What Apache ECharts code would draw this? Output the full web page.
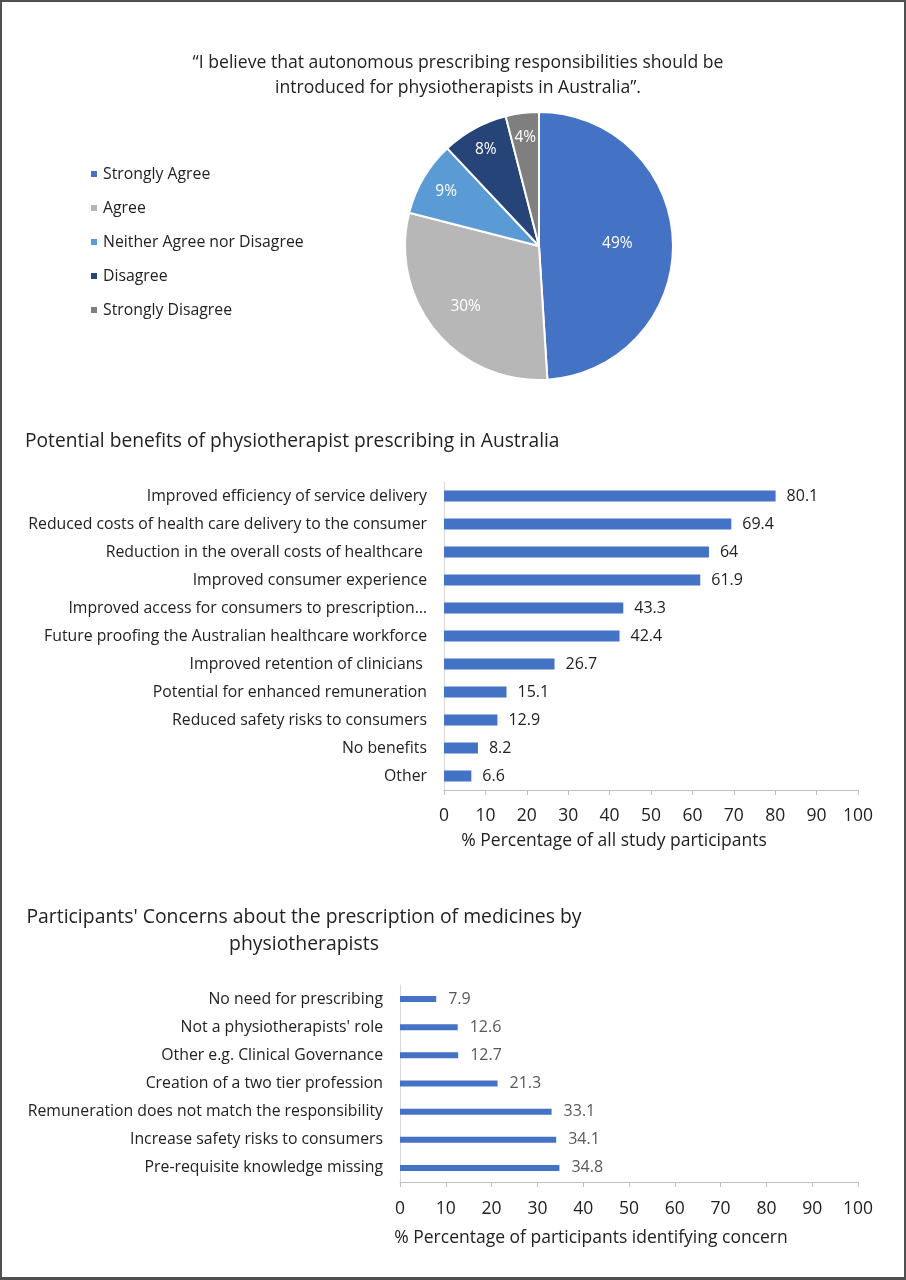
<!DOCTYPE html>
<html>
<head>
<meta charset="utf-8">
<script src="https://cdn.jsdelivr.net/npm/echarts@6/dist/echarts.min.js"></script>
<style>
html,body{margin:0;padding:0;background:#fff;}
#wrap{position:relative;width:906px;height:1280px;}
#chart{width:906px;height:1280px;}
#frame{position:absolute;left:0;top:0;width:906px;height:1280px;box-sizing:border-box;border:2px solid #505050;border-bottom-width:3px;pointer-events:none;}
</style>
</head>
<body>
<div id="wrap"><div id="chart"></div><div id="frame"></div></div>
<script>
// ---- data ----
const pieTitle = '\u201CI believe that autonomous prescribing responsibilities should be\nintroduced for physiotherapists in Australia\u201D.';
const pieCategories = ['Strongly Agree', 'Agree', 'Neither Agree nor Disagree', 'Disagree', 'Strongly Disagree'];
const pieValues = [49, 30, 9, 8, 4];

const benefitsTitle = 'Potential benefits of physiotherapist prescribing in Australia';
const benefitsCategories = [
  'Improved efficiency of service delivery',
  'Reduced costs of health care delivery to the consumer',
  'Reduction in the overall costs of healthcare ',
  'Improved consumer experience',
  'Improved access for consumers to prescription\u2026',
  'Future proofing the Australian healthcare workforce',
  'Improved retention of clinicians ',
  'Potential for enhanced remuneration',
  'Reduced safety risks to consumers',
  'No benefits',
  'Other'
];
const benefitsValues = [80.1, 69.4, 64, 61.9, 43.3, 42.4, 26.7, 15.1, 12.9, 8.2, 6.6];
const benefitsAxisName = '% Percentage of all study participants';

const concernsTitle = "Participants' Concerns about the prescription of medicines by\nphysiotherapists";
const concernsCategories = [
  'No need for prescribing',
  "Not a physiotherapists' role",
  'Other e.g. Clinical Governance',
  'Creation of a two tier profession',
  'Remuneration does not match the responsibility',
  'Increase safety risks to consumers',
  'Pre-requisite knowledge missing'
];
const concernsValues = [7.9, 12.6, 12.7, 21.3, 33.1, 34.1, 34.8];
const concernsAxisName = '% Percentage of participants identifying concern';

// ---- styling / layout ----
const FONT = '"Open Sans", Lato, sans-serif';
const pieColors = ['#4472C4', '#B7B7B7', '#5B9BD5', '#264478', '#7F7F7F'];
const pieCenter = [539, 246];
const pieRadius = 134;
const pieLabelFraction = [0.56, 0.68, 0.77, 0.79, 0.78];

const chart = echarts.init(document.getElementById('chart'));

function xAxisCfg(gridIndex, name, nameGap, nameShift, labelMargin) {
  return {
    type: 'value', gridIndex, min: 0, max: 100, interval: 10,
    name, nameLocation: 'middle', nameGap,
    nameTextStyle: { fontFamily: FONT, fontSize: 17.5, color: '#222', padding: [0, nameShift, 0, 0] },
    axisLine: { show: true, lineStyle: { color: '#BFBFBF', width: 1 } },
    axisTick: { show: true, length: 5, lineStyle: { color: '#BFBFBF' } },
    splitLine: { show: false },
    axisLabel: { fontFamily: FONT, fontSize: 17.5, color: '#222', margin: labelMargin }
  };
}
function yAxisCfg(gridIndex, data) {
  return {
    type: 'category', gridIndex, data, inverse: true,
    axisLine: { show: true, lineStyle: { color: '#D9D9D9' } },
    axisTick: { show: false },
    axisLabel: { fontFamily: FONT, fontSize: 15.8, color: '#222', margin: 17 }
  };
}

const option = {
  animation: false,
  backgroundColor: '#fff',
  textStyle: { fontFamily: FONT },
  title: [
    { text: pieTitle, left: 453, top: 45, textAlign: 'center',
      textStyle: { fontFamily: FONT, fontSize: 17.6, fontWeight: 'normal', color: '#222', lineHeight: 25, align: 'center' } },
    { text: benefitsTitle, left: 20, top: 425,
      textStyle: { fontFamily: FONT, fontSize: 19.2, fontWeight: 'normal', color: '#222', lineHeight: 24 } },
    { text: concernsTitle, left: 299, top: 899, textAlign: 'center',
      textStyle: { fontFamily: FONT, fontSize: 19.4, fontWeight: 'normal', color: '#222', lineHeight: 27, align: 'center' } }
  ],
  legend: {
    orient: 'vertical', left: 84, top: 161,
    itemWidth: 8, itemHeight: 8, itemGap: 18, icon: 'rect',
    data: pieCategories,
    textStyle: { fontFamily: FONT, fontSize: 15.8, color: '#222' }
  },
  grid: [
    { left: 444, right: 48, top: 482, height: 308 },
    { left: 400, right: 48, top: 985, height: 197 }
  ],
  xAxis: [
    xAxisCfg(0, benefitsAxisName, 42, 74, 17),
    xAxisCfg(1, concernsAxisName, 47, 76, 18)
  ],
  yAxis: [
    yAxisCfg(0, benefitsCategories),
    yAxisCfg(1, concernsCategories)
  ],
  series: [
    {
      type: 'pie', center: pieCenter, radius: pieRadius, startAngle: 90, clockwise: true,
      color: pieColors,
      itemStyle: { borderColor: '#fff', borderWidth: 2 },
      label: { show: true, position: 'inside', color: '#fff', fontFamily: FONT, fontSize: 15.5,
        formatter: p => p.value + '%' },
      labelLine: { show: false },
      labelLayout: function (params) {
        const r = params.labelRect;
        const lx = r.x + r.width / 2, ly = r.y + r.height / 2;
        const k = pieLabelFraction[params.dataIndex] / 0.5 - 1;
        return { dx: (lx - pieCenter[0]) * k, dy: (ly - pieCenter[1]) * k };
      },
      data: pieCategories.map((n, i) => ({ name: n, value: pieValues[i] }))
    },
    {
      type: 'bar', xAxisIndex: 0, yAxisIndex: 0, data: benefitsValues, barWidth: 11,
      itemStyle: { color: '#4472C4' },
      label: { show: true, position: 'right', distance: 11, fontFamily: FONT, fontSize: 16, color: '#222' }
    },
    {
      type: 'bar', xAxisIndex: 1, yAxisIndex: 1, data: concernsValues, barWidth: 6,
      itemStyle: { color: '#4472C4' },
      label: { show: true, position: 'right', distance: 12, fontFamily: FONT, fontSize: 16, color: '#595959' }
    }
  ]
};
chart.setOption(option);
</script>
</body>
</html>
